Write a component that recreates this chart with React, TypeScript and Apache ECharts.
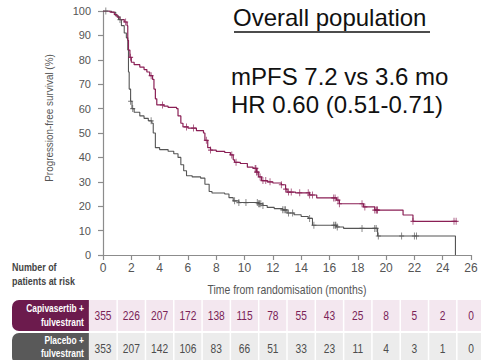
import React, { useEffect, useRef } from "react";
import * as echarts from "echarts";

// Kaplan-Meier curves: [month, PFS % after that time]
const capivasertibCurve: [number, number][] = [
  [0, 100], [0.5, 99.5], [0.8, 98.5], [1.0, 97.5], [1.2, 96.5], [1.5, 95.5], [1.7, 94],
  [1.75, 88], [1.8, 84], [1.9, 81], [2.0, 79], [2.2, 78], [2.6, 77], [2.9, 76], [3.1, 75],
  [3.3, 73.5], [3.5, 72], [3.6, 68], [3.7, 64], [3.8, 61.5], [4.3, 61], [4.6, 60.5], [5.2, 60],
  [5.3, 57], [5.5, 54], [5.65, 52.5], [6.0, 52], [6.6, 51], [7.1, 50], [7.2, 47], [7.4, 44],
  [7.6, 43], [8.0, 42.5], [8.6, 42], [9.0, 41], [9.2, 39], [9.3, 38], [9.7, 37.5], [10.2, 36],
  [10.6, 35.5], [10.85, 34], [11.0, 32], [11.2, 30.5], [11.6, 30], [12.0, 29.5], [12.6, 28.8],
  [12.9, 27], [13.0, 25.8], [13.6, 25.5], [14.6, 24.6], [15.1, 23.4], [16.5, 22.5], [16.7, 21],
  [18.4, 19.7], [19.2, 18.4], [21.2, 16.4], [21.9, 13.8], [25.0, 13.8],
];
const placeboCurve: [number, number][] = [
  [0, 100], [0.6, 99.5], [0.9, 98], [1.1, 96.5], [1.3, 94], [1.5, 91], [1.65, 89], [1.75, 84],
  [1.8, 75], [1.85, 68], [1.95, 63], [2.05, 60], [2.2, 58.5], [2.6, 57], [2.9, 56], [3.2, 55],
  [3.45, 54], [3.55, 50], [3.7, 44], [4.0, 43.2], [4.6, 42.5], [5.0, 41.5], [5.3, 40], [5.5, 37],
  [5.7, 34.5], [5.9, 32.5], [6.3, 32], [6.9, 31.5], [7.2, 29], [7.5, 26], [7.7, 25.4], [8.6, 25],
  [8.9, 23.5], [9.2, 22.2], [9.6, 21.5], [11.0, 21], [11.3, 20.3], [11.6, 19.5], [12.1, 19],
  [12.7, 18.5], [13.0, 17.2], [13.5, 16.5], [14.0, 15.8], [14.5, 15], [14.8, 12.2], [16.5, 11.5],
  [17.0, 10.9], [19.4, 7.8], [24.9, 0],
];
// censoring times (months)
const capivasertibCensor = [
  1.6, 1.95, 3.4, 4.2, 5.9, 6.4, 7.3, 7.6, 9.1, 9.4, 10.75, 10.8, 10.85, 10.9, 11.1, 11.3, 11.5,
  11.8, 12.6, 12.9, 13.1, 13.3, 13.9, 14.5, 14.6, 14.8, 16.3, 16.4, 16.6, 16.7, 18.3, 18.5, 19.2,
  19.3, 19.35, 19.4, 21.9, 24.8, 24.95,
];
const placeboCensor = [
  0.2, 1.2, 1.95, 2.1, 3.4, 9.3, 9.6, 10.1, 10.9, 11.0, 11.05, 11.15, 11.3, 12.7, 12.8, 12.9,
  13.1, 13.4, 14.6, 14.9, 16.3, 16.4, 16.45, 16.55, 18.3, 19.2, 19.3, 19.45, 21.1, 22.0, 22.15,
];
const riskTimes = [0, 2, 4, 6, 8, 10, 12, 14, 16, 18, 20, 22, 24, 26];
const capivasertibAtRisk = [355, 226, 207, 172, 138, 115, 78, 55, 43, 25, 8, 5, 2, 0];
const placeboAtRisk = [353, 207, 142, 106, 83, 66, 51, 33, 23, 11, 4, 3, 1, 0];

const titleText = "Overall population";
const statLines = ["mPFS 7.2 vs 3.6 mo", "HR 0.60 (0.51-0.71)"];
const yAxisName = "Progression-free survival (%)";
const xAxisName = "Time from randomisation (months)";
const armLabels = [["Capivasertib +", "fulvestrant"], ["Placebo +", "fulvestrant"]];

const RED = "#8a1f55";
const GREY = "#555555";
const NARROW = "'Liberation Sans Narrow', 'Arial Narrow', 'Liberation Sans', Arial, sans-serif";
const ARIAL = "'Liberation Sans', Arial, sans-serif";

function survivalAt(curve: [number, number][], t: number) {
  let v = curve[0][1];
  for (const [x, y] of curve) {
    if (x <= t) v = y;
    else break;
  }
  return v;
}

const plus = "path://M5,0 L5,10 M0,5 L10,5";

export default function App() {
  const ref = useRef<HTMLDivElement>(null);
  useEffect(() => {
    if (!ref.current) return;
    const chart = echarts.init(ref.current, undefined, { renderer: "svg" });
    const axisCommon = {
      axisLine: { show: true, lineStyle: { color: "#8c8c8c", width: 1.2 } },
      axisTick: { show: true, length: 5, lineStyle: { color: "#8c8c8c", width: 1.2 } },
      splitLine: { show: false },
    };
    chart.setOption({
      animation: false,
      grid: { left: 103, right: 10, top: 11, bottom: 105 },
      xAxis: {
        type: "value", min: 0, max: 26, interval: 2, ...axisCommon,
        axisLabel: { color: "#555", fontSize: 12, margin: 7, fontFamily: NARROW },
      },
      yAxis: {
        type: "value", min: 0, max: 100, interval: 10, ...axisCommon,
        axisLabel: { color: "#555", fontSize: 11, margin: 12, fontFamily: NARROW },
      },
      series: [
        {
          type: "line", step: "end", data: placeboCurve, showSymbol: false,
          lineStyle: { color: GREY, width: 1.1 }, z: 2,
        },
        {
          type: "line", step: "end", data: capivasertibCurve, showSymbol: false,
          lineStyle: { color: RED, width: 1.2 }, z: 3,
        },
        {
          type: "scatter", symbol: plus, symbolSize: [5, 7],
          data: placeboCensor.map((t) => [t, survivalAt(placeboCurve, t)]),
          itemStyle: { color: "none", borderColor: GREY, borderWidth: 1 }, z: 4,
        },
        {
          type: "scatter", symbol: plus, symbolSize: [5, 7],
          data: capivasertibCensor.map((t) => [t, survivalAt(capivasertibCurve, t)]),
          itemStyle: { color: "none", borderColor: RED, borderWidth: 1 }, z: 5,
        },
      ],
    });

    const px = riskTimes.map((t) => chart.convertToPixel({ xAxisIndex: 0 }, t) as number);
    const half = (px[1] - px[0]) / 2;
    const plotLeft = px[0];
    const plotRight = px[px.length - 1];
    const tableLeft = px[0] - half;
    const rows = [
      { top: 300, h: 31, bg: "#f3e7ef", box: "#6c1b4d", text: "#7a2357", counts: capivasertibAtRisk, l1: 308.5, gap: 13.5 },
      { top: 333, h: 31, bg: "#ececec", box: "#595959", text: "#4d4d4d", counts: placeboAtRisk, l1: 340.5, gap: 12.5 },
    ];
    const g: any[] = [];
    g.push({
      type: "text", x: 233, y: 29,
      style: { text: titleText, fontSize: 24, fontFamily: ARIAL, fill: "#111", textAlign: "left", textVerticalAlign: "bottom" },
    });
    g.push({ type: "line", shape: { x1: 234, y1: 32, x2: 430, y2: 32 }, style: { stroke: "#111", lineWidth: 1.3 } });
    statLines.forEach((s, i) => {
      g.push({
        type: "text", x: 231, y: 88 + i * 28,
        style: { text: s, fontSize: 24, fontFamily: ARIAL, fill: "#111", textAlign: "left", textVerticalAlign: "bottom" },
      });
    });
    g.push({
      type: "text", x: 49, y: 118, rotation: Math.PI / 2, scaleX: 0.9,
      style: { text: yAxisName, fontSize: 11, fontFamily: NARROW, fill: "#555", textAlign: "center", textVerticalAlign: "middle" },
    });
    g.push({
      type: "text", x: 12, y: 267, scaleX: 0.85,
      style: { text: "Number of", fontSize: 10.5, fontWeight: "bold", fontFamily: NARROW, fill: "#444", textVerticalAlign: "middle" },
    });
    g.push({
      type: "text", x: 12, y: 281, scaleX: 0.85,
      style: { text: "patients at risk", fontSize: 10.5, fontWeight: "bold", fontFamily: NARROW, fill: "#444", textVerticalAlign: "middle" },
    });
    g.push({
      type: "text", x: (plotLeft + plotRight) / 2, y: 290, scaleX: 0.87,
      style: { text: xAxisName, fontSize: 12, fontFamily: NARROW, fill: "#555", textAlign: "center", textVerticalAlign: "middle" },
    });
    rows.forEach((r, ri) => {
      g.push({ type: "rect", shape: { x: tableLeft, y: r.top, width: 481 - tableLeft + 20, height: r.h }, style: { fill: r.bg } });
      px.forEach((x) => {
        g.push({ type: "line", shape: { x1: x + half, y1: r.top, x2: x + half, y2: r.top + r.h }, style: { stroke: "#fff", lineWidth: 1.5 } });
      });
      g.push({ type: "rect", shape: { x: 12, y: r.top, width: tableLeft - 12, height: r.h, r: [7, 0, 0, 7] }, style: { fill: r.box } });
      armLabels[ri].forEach((s, li) => {
        g.push({
          type: "text", x: tableLeft - 5, y: r.l1 + li * r.gap, scaleX: 0.8,
          style: { text: s, fontSize: 10.5, fontWeight: "bold", fontFamily: NARROW, fill: "#fff", textAlign: "right", textVerticalAlign: "middle" },
        });
      });
      r.counts.forEach((c, ci) => {
        g.push({
          type: "text", x: px[ci], y: r.top + 15.5, scaleX: 0.85,
          style: { text: String(c), fontSize: 12, fontFamily: NARROW, fill: r.text, textAlign: "center", textVerticalAlign: "middle" },
        });
      });
    });
    chart.setOption({ graphic: g });
    return () => chart.dispose();
  }, []);
  return (
    <div
      ref={ref}
      style={{ position: "absolute", left: 0, top: 0, width: 481, height: 360, background: "#fff" }}
    />
  );
}
